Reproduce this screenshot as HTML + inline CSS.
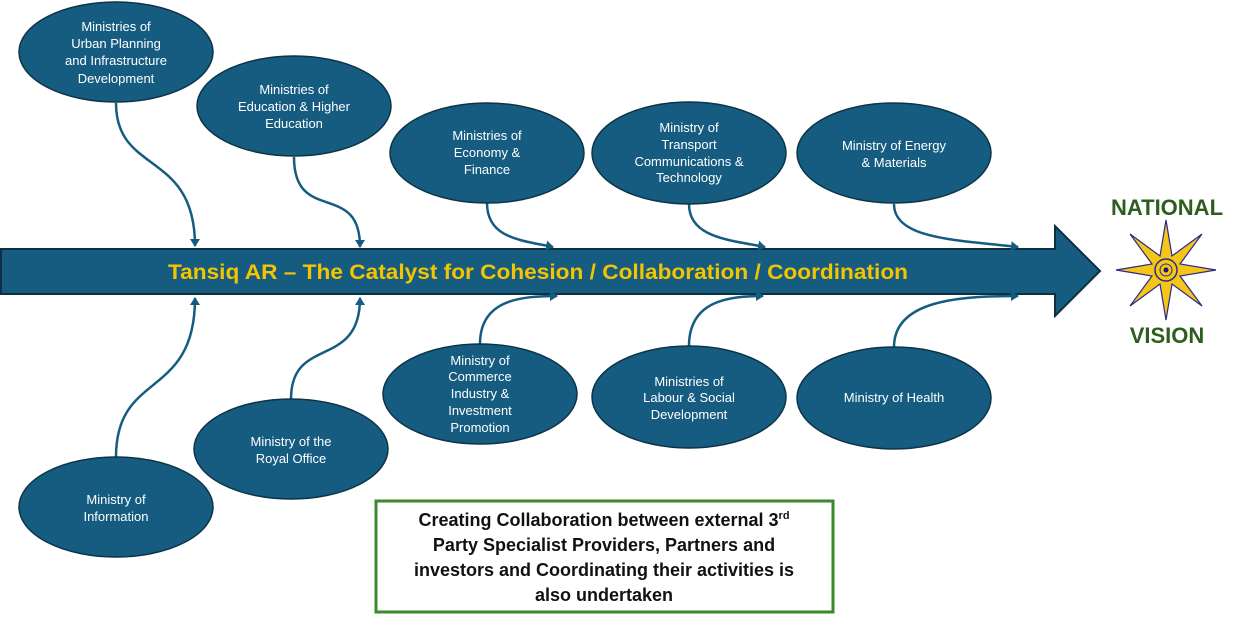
<!DOCTYPE html>
<html><head><meta charset="utf-8"><style>
body{margin:0;width:1239px;height:621px;background:#fff;overflow:hidden;font-family:"Liberation Sans",sans-serif}
</style></head><body>
<svg width="1239" height="621" viewBox="0 0 1239 621" xmlns="http://www.w3.org/2000/svg" font-family="Liberation Sans, sans-serif">
<defs>
<marker id="a" markerWidth="10" markerHeight="10" refX="7" refY="5" orient="auto" markerUnits="userSpaceOnUse">
<path d="M0,0 L8,5 L0,10 Z" fill="#155c80"/></marker>
</defs>
<path d="M1,249 L1055,249 L1055,226 L1100,271 L1055,316 L1055,294 L1,294 Z" fill="#155c80" stroke="#0d2f42" stroke-width="2"/>
<text x="538" y="279" text-anchor="middle" fill="#f5c400" font-weight="bold" font-size="21" textLength="740" lengthAdjust="spacingAndGlyphs">Tansiq AR – The Catalyst for Cohesion / Collaboration / Coordination</text>
<g fill="none" stroke="#155c80" stroke-width="2.5" marker-end="url(#a)">
<path d="M116,103 C116,175 195,150 195,246"/>
<path d="M294,157 C294,225 360,180 360,247"/>
<path d="M487,203 C487,238 520,240 553,247"/>
<path d="M689,204 C689,238 730,240 765,247"/>
<path d="M894,204 C894,240 960,240 1018,247"/>
<path d="M480,344 C480,300 520,296 557,296"/>
<path d="M689,346 C689,300 730,296 763,296"/>
<path d="M894,347 C894,300 960,296 1018,296"/>
<path d="M291,399 C291,335 360,370 360,298"/>
<path d="M116,457 C116,370 195,400 195,298"/>
</g>
<g fill="#155c80" stroke="#0d3447" stroke-width="1.5">
<ellipse cx="116" cy="52" rx="97" ry="50"/>
<ellipse cx="294" cy="106" rx="97" ry="50"/>
<ellipse cx="487" cy="153" rx="97" ry="50"/>
<ellipse cx="689" cy="153" rx="97" ry="51"/>
<ellipse cx="894" cy="153" rx="97" ry="50"/>
<ellipse cx="480" cy="394" rx="97" ry="50"/>
<ellipse cx="689" cy="397" rx="97" ry="51"/>
<ellipse cx="894" cy="398" rx="97" ry="51"/>
<ellipse cx="291" cy="449" rx="97" ry="50"/>
<ellipse cx="116" cy="507" rx="97" ry="50"/>
</g>
<g fill="#fff" font-size="13" text-anchor="middle">
<text x="116" y="31">Ministries of</text><text x="116" y="48">Urban Planning</text><text x="116" y="65">and Infrastructure</text><text x="116" y="83">Development</text>
<text x="294" y="94">Ministries of</text><text x="294" y="111">Education &amp; Higher</text><text x="294" y="128">Education</text>
<text x="487" y="140">Ministries of</text><text x="487" y="157">Economy &amp;</text><text x="487" y="174">Finance</text>
<text x="689" y="132">Ministry of</text><text x="689" y="149">Transport</text><text x="689" y="166">Communications &amp;</text><text x="689" y="182">Technology</text>
<text x="894" y="150">Ministry of Energy</text><text x="894" y="167">&amp; Materials</text>
<text x="480" y="365">Ministry of</text><text x="480" y="381">Commerce</text><text x="480" y="398">Industry &amp;</text><text x="480" y="415">Investment</text><text x="480" y="432">Promotion</text>
<text x="689" y="386">Ministries of</text><text x="689" y="402">Labour &amp; Social</text><text x="689" y="419">Development</text>
<text x="894" y="402">Ministry of Health</text>
<text x="291" y="446">Ministry of the</text><text x="291" y="463">Royal Office</text>
<text x="116" y="504">Ministry of</text><text x="116" y="521">Information</text>
</g>
<rect x="376" y="501" width="457" height="111" fill="#fff" stroke="#3a8a2a" stroke-width="3"/>
<g font-size="18" font-weight="bold" text-anchor="middle" fill="#111">
<text x="604" y="526">Creating Collaboration between external 3<tspan font-size="11" dy="-7">rd</tspan></text>
<text x="604" y="551">Party Specialist Providers,  Partners and</text>
<text x="604" y="576">investors and Coordinating their activities is</text>
<text x="604" y="601">also undertaken</text>
</g>
<text x="1167" y="215" text-anchor="middle" fill="#2e5e1e" font-weight="bold" font-size="22">NATIONAL</text>
<text x="1167" y="343" text-anchor="middle" fill="#2e5e1e" font-weight="bold" font-size="22">VISION</text>
<polygon fill="#f5c518" stroke="#2a2a8a" stroke-width="1.2" points="1166,220 1172,256 1202,234 1180,264 1216,270 1180,276 1202,306 1172,284 1166,320 1160,284 1130,306 1152,276 1116,270 1152,264 1130,234 1160,256"/>
<circle cx="1166" cy="270" r="11" fill="#f5c518" stroke="#2a2a8a" stroke-width="1.5"/>
<circle cx="1166" cy="270" r="6" fill="none" stroke="#2a2a8a" stroke-width="1"/>
<circle cx="1166" cy="270" r="2.5" fill="#1a1a7a"/>
</svg>
</body></html>
